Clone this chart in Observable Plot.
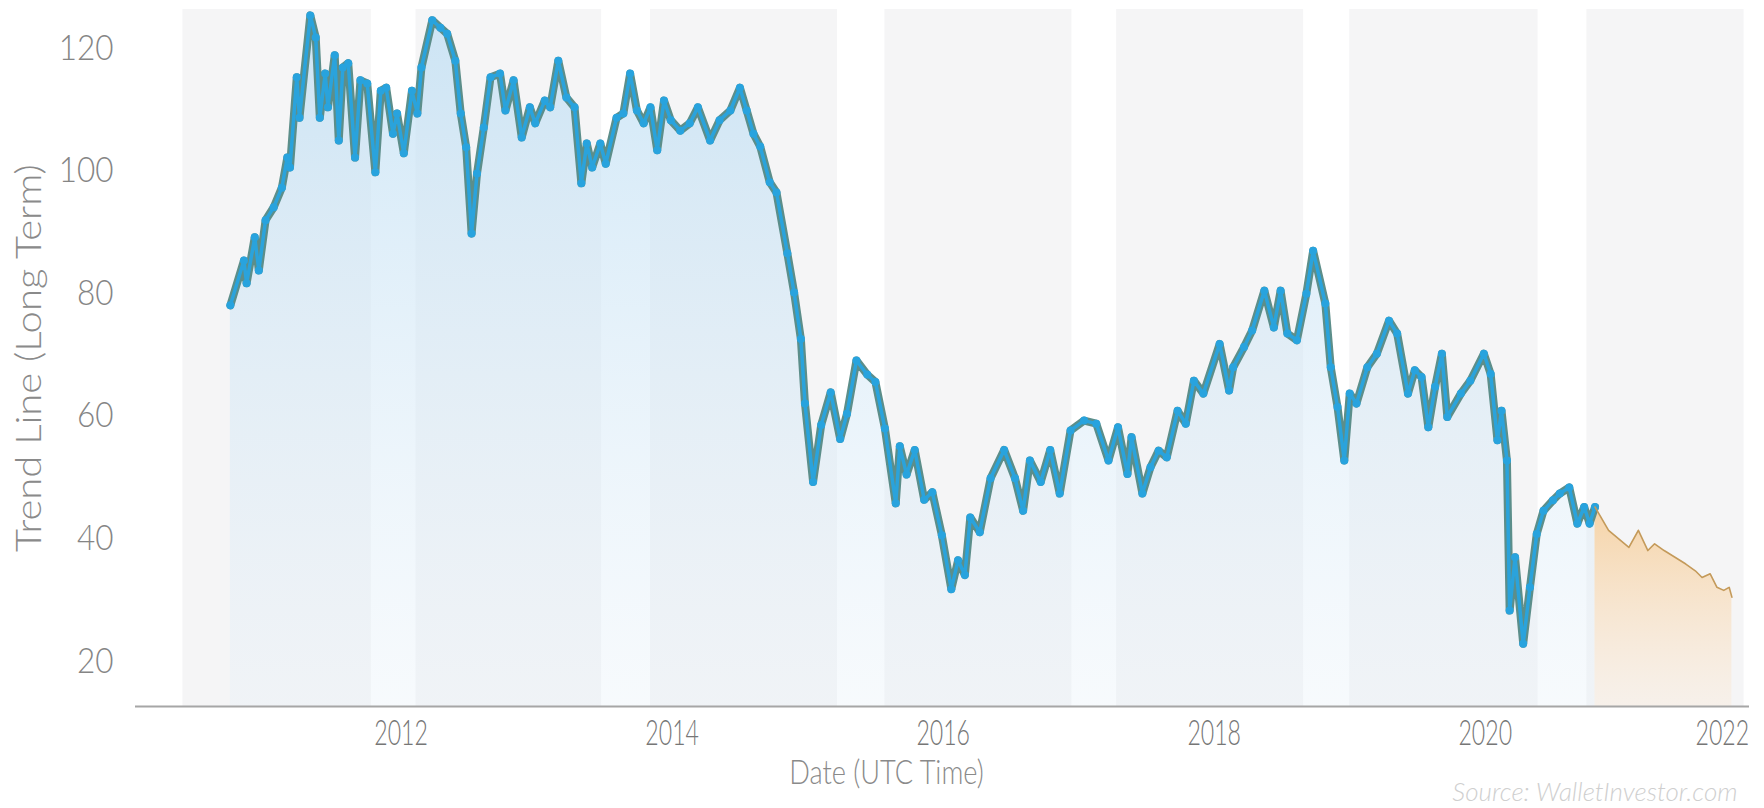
<!DOCTYPE html>
<html>
<head>
<meta charset="utf-8">
<script src="https://cdn.jsdelivr.net/npm/d3@7"></script>
<script src="https://cdn.jsdelivr.net/npm/@observablehq/plot@0.6"></script>
<style>
  html, body { margin: 0; padding: 0; background: #ffffff; }
  #chart { position: relative; width: 1764px; height: 808px; overflow: hidden; }
  #chart svg g[aria-label="y-axis tick label"],
  #chart svg g[aria-label="y-axis"] {
    font-family: Lato, "Open Sans", sans-serif; font-weight: 300; font-size: 35px;
    color: #858585; fill: #858585;
  }
  #chart svg g[aria-label="x-axis tick label"],
  #chart svg g[aria-label="x-axis"] {
    font-family: Lato, "Open Sans", sans-serif; font-weight: 300; font-size: 35px;
    color: #767676; fill: #767676;
  }
</style>
</head>
<body>
<div id="chart"></div>
<script>
// ---- data (decimal years, trend value) ----
const histYears = [
  2010.74, 2010.84, 2010.86, 2010.92, 2010.95, 2011.00, 2011.06, 2011.12, 2011.16, 2011.18,
  2011.23, 2011.25, 2011.33, 2011.37, 2011.40, 2011.44, 2011.46, 2011.51, 2011.54, 2011.57,
  2011.61, 2011.66, 2011.70, 2011.75, 2011.81, 2011.85, 2011.89, 2011.94, 2011.97, 2012.02,
  2012.08, 2012.12, 2012.15, 2012.23, 2012.29, 2012.34, 2012.40, 2012.44, 2012.48, 2012.52,
  2012.56, 2012.61, 2012.66, 2012.73, 2012.77, 2012.83, 2012.89, 2012.95, 2012.99, 2013.06,
  2013.10, 2013.16, 2013.22, 2013.28, 2013.33, 2013.37, 2013.41, 2013.47, 2013.51, 2013.59,
  2013.64, 2013.69, 2013.74, 2013.79, 2013.84, 2013.89, 2013.94, 2013.99, 2014.06, 2014.13,
  2014.19, 2014.28, 2014.35, 2014.43, 2014.50, 2014.55, 2014.60, 2014.65, 2014.72, 2014.77,
  2014.85, 2014.90, 2014.95, 2014.98, 2015.04, 2015.10, 2015.17, 2015.24, 2015.29, 2015.36,
  2015.44, 2015.50, 2015.57, 2015.65, 2015.68, 2015.73, 2015.79, 2015.86, 2015.92, 2015.99,
  2016.06, 2016.11, 2016.16, 2016.20, 2016.27, 2016.35, 2016.45, 2016.53, 2016.59, 2016.64,
  2016.72, 2016.79, 2016.86, 2016.94, 2017.04, 2017.13, 2017.22, 2017.29, 2017.36, 2017.39,
  2017.47, 2017.53, 2017.59, 2017.65, 2017.73, 2017.79, 2017.85, 2017.92, 2018.04, 2018.11,
  2018.14, 2018.22, 2018.28, 2018.37, 2018.44, 2018.49, 2018.54, 2018.61, 2018.68, 2018.73,
  2018.82, 2018.86, 2018.91, 2018.96, 2019.00, 2019.05, 2019.13, 2019.20, 2019.29, 2019.35,
  2019.43, 2019.48, 2019.53, 2019.58, 2019.63, 2019.68, 2019.72, 2019.82, 2019.89, 2019.99,
  2020.04, 2020.09, 2020.12, 2020.16, 2020.18, 2020.22, 2020.28, 2020.33, 2020.38, 2020.43,
  2020.50, 2020.55, 2020.62, 2020.68, 2020.73, 2020.77, 2020.81
];
const histValues = [
  78.1, 85.4, 81.7, 89.2, 83.8, 92.0, 94.1, 97.3, 102.2, 100.6,
  115.3, 108.7, 125.4, 121.8, 108.7, 115.9, 110.4, 118.9, 105.0, 116.9,
  117.6, 102.2, 114.8, 114.3, 99.8, 113.1, 113.6, 106.1, 109.4, 102.9,
  113.1, 109.4, 116.9, 124.6, 123.4, 122.4, 118.0, 109.4, 103.9, 89.8,
  99.6, 107.1, 115.3, 115.9, 109.9, 114.8, 105.5, 110.4, 107.8, 111.5,
  110.4, 118.0, 112.0, 110.4, 98.0, 104.5, 100.6, 104.5, 101.2, 108.7,
  109.4, 115.9, 109.9, 107.8, 110.4, 103.4, 111.5, 108.3, 106.6, 107.8,
  110.4, 105.0, 108.3, 109.9, 113.6, 109.9, 106.1, 104.0, 98.2, 96.5,
  86.6, 80.2, 72.6, 62.1, 49.3, 58.6, 63.9, 56.3, 60.4, 69.1,
  66.8, 65.6, 58.0, 45.8, 55.1, 50.5, 54.5, 46.4, 47.6, 40.6,
  31.8, 36.5, 34.1, 43.5, 41.1, 49.9, 54.5, 49.9, 44.6, 52.8,
  49.3, 54.5, 47.4, 57.7, 59.3, 58.8, 52.8, 58.2, 50.6, 56.6,
  47.4, 51.7, 54.4, 53.3, 60.9, 58.8, 65.8, 63.7, 71.8, 64.2,
  68.0, 71.3, 74.0, 80.5, 74.5, 80.5, 73.5, 72.4, 80.0, 87.0,
  78.4, 68.0, 61.5, 52.8, 63.7, 62.1, 68.0, 70.2, 75.6, 73.5,
  63.7, 67.5, 66.4, 58.2, 64.8, 70.2, 59.9, 63.7, 65.8, 70.2,
  66.9, 56.1, 60.9, 52.8, 28.3, 37.0, 22.9, 32.1, 40.8, 44.6,
  46.3, 47.4, 48.4, 42.5, 45.2, 42.5, 45.2
];
const forecastYears = [
  2020.81, 2020.91, 2021.06, 2021.13, 2021.20, 2021.25, 2021.32, 2021.40,
  2021.48, 2021.55, 2021.60, 2021.66, 2021.71, 2021.76, 2021.80, 2021.82
];
const forecastValues = [
  45.2, 41.4, 38.6, 41.4, 38.1, 39.2, 38.1, 37.0,
  35.9, 34.8, 33.7, 34.3, 32.1, 31.6, 32.1, 30.5
];
// shaded background bands (decimal years)
const bandStarts = [2010.39, 2012.11, 2013.84, 2015.57, 2017.28, 2019.00, 2020.75];
const bandEnds   = [2011.78, 2013.48, 2015.22, 2016.95, 2018.66, 2020.39, 2021.91];
const yTicks = [20, 40, 60, 80, 100, 120];
const xTicks = [2012, 2014, 2016, 2018, 2020];
const xLastTick = [2022];
const xDomain = [2010.04, 2021.95];
const yDomain = [12.66, 126.36];
const yTitle = "Trend Line (Long Term)";
const xTitle = "Date (UTC Time)";
const sourceText = "Source: WalletInvestor.com";

// ---- tables built from the arrays ----
const history = histYears.map((x, i) => ({x, y: histValues[i]}));
const forecast = forecastYears.map((x, i) => ({x, y: forecastValues[i]}));
const bands = bandStarts.map((s, i) => ({s, e: bandEnds[i]}));

const svg = Plot.plot({
  width: 1764,
  height: 808,
  marginLeft: 135,
  marginRight: 15,
  marginTop: 9,
  marginBottom: 102,
  style: {background: "#ffffff", fontFamily: "Lato, sans-serif"},
  x: {domain: xDomain, ticks: xTicks, tickFormat: "d", tickSize: 0, tickPadding: 14, label: null},
  y: {domain: yDomain, ticks: yTicks, tickSize: 0, tickPadding: 22, label: null},
  marks: [
    Plot.rect(bands, {x1: "s", x2: "e", fill: "#f5f5f6"}),
    Plot.areaY(history, {x: "x", y1: yDomain[0], y2: "y", fill: "url(#gBlue)"}),
    Plot.areaY(forecast, {x: "x", y1: yDomain[0], y2: "y", fill: "url(#gOrange)"}),
    Plot.line(history, {x: "x", y: "y", stroke: "#5c8e8a", strokeWidth: 8, strokeLinejoin: "round", strokeLinecap: "round"}),
    Plot.line(history, {x: "x", y: "y", stroke: "#2aa3dc", strokeWidth: 3.5, strokeLinejoin: "round"}),
    Plot.dot(history, {x: "x", y: "y", r: 4, fill: "#28a3de"}),
    Plot.line(forecast, {x: "x", y: "y", stroke: "#c49a5a", strokeWidth: 1.6, strokeLinejoin: "round"}),
    Plot.ruleY([yDomain[0]], {stroke: "#a6a6a6", strokeWidth: 2}),
    Plot.text(xLastTick, {x: d => d, text: d => String(d), frameAnchor: "bottom", dx: -34, dy: 38,
      fontSize: 35, fontFamily: "Lato, sans-serif", fontWeight: 300, fill: "#767676"}),
    Plot.text([yTitle], {text: d => d, frameAnchor: "left", textAnchor: "middle", rotate: -90, dx: -106,
      fontSize: 40, fontFamily: "Lato, sans-serif", fontWeight: 300, fill: "#8a8a8a"}),
    Plot.text([xTitle], {text: d => d, frameAnchor: "bottom", textAnchor: "middle", dx: -56, dy: 77,
      fontSize: 34, fontFamily: "Lato, sans-serif", fontWeight: 300, fill: "#8a8a8a"}),
    Plot.text([sourceText], {text: d => d, frameAnchor: "bottom-right", textAnchor: "end", lineAnchor: "bottom", dx: -12, dy: 94,
      fontSize: 26, fontStyle: "italic", fontFamily: "Lato, sans-serif", fontWeight: 300, fill: "#cfcfcf"})
  ]
});

// gradients for the area fills
const defs = d3.select(svg).insert("defs", ":first-child");
const gb = defs.append("linearGradient").attr("id", "gBlue").attr("x1", 0).attr("y1", 0).attr("x2", 0).attr("y2", 1);
gb.append("stop").attr("offset", "0%").attr("stop-color", "#bfdff4").attr("stop-opacity", 0.75);
gb.append("stop").attr("offset", "100%").attr("stop-color", "#e4eff8").attr("stop-opacity", 0.3);
const go = defs.append("linearGradient").attr("id", "gOrange").attr("x1", 0).attr("y1", 0).attr("x2", 0).attr("y2", 1);
go.append("stop").attr("offset", "0%").attr("stop-color", "#f6c88c").attr("stop-opacity", 0.75);
go.append("stop").attr("offset", "100%").attr("stop-color", "#fbe6cf").attr("stop-opacity", 0.3);

// the reference uses a narrow typeface: condense texts horizontally
function squeeze(sel, sx, sy) {
  sel.each(function() {
    const t = this.getAttribute("transform") || "";
    this.setAttribute("transform", t + ` scale(${sx},${sy})`);
  });
}
const root = d3.select(svg);
squeeze(root.selectAll('g[aria-label="x-axis tick label"] text, g[aria-label="x-axis"] text'), 0.66, 1);
squeeze(root.selectAll("text").filter(function() { return this.textContent === String(xLastTick[0]); }), 0.66, 1);
squeeze(root.selectAll("text").filter(function() { return this.textContent === xTitle; }), 0.8, 1);
squeeze(root.selectAll("text").filter(function() { return this.textContent === yTitle; }), 1, 0.86);
squeeze(root.selectAll('g[aria-label="y-axis tick label"] text, g[aria-label="y-axis"] text'), 0.9, 1);

document.getElementById("chart").appendChild(svg);
</script>
</body>
</html>
